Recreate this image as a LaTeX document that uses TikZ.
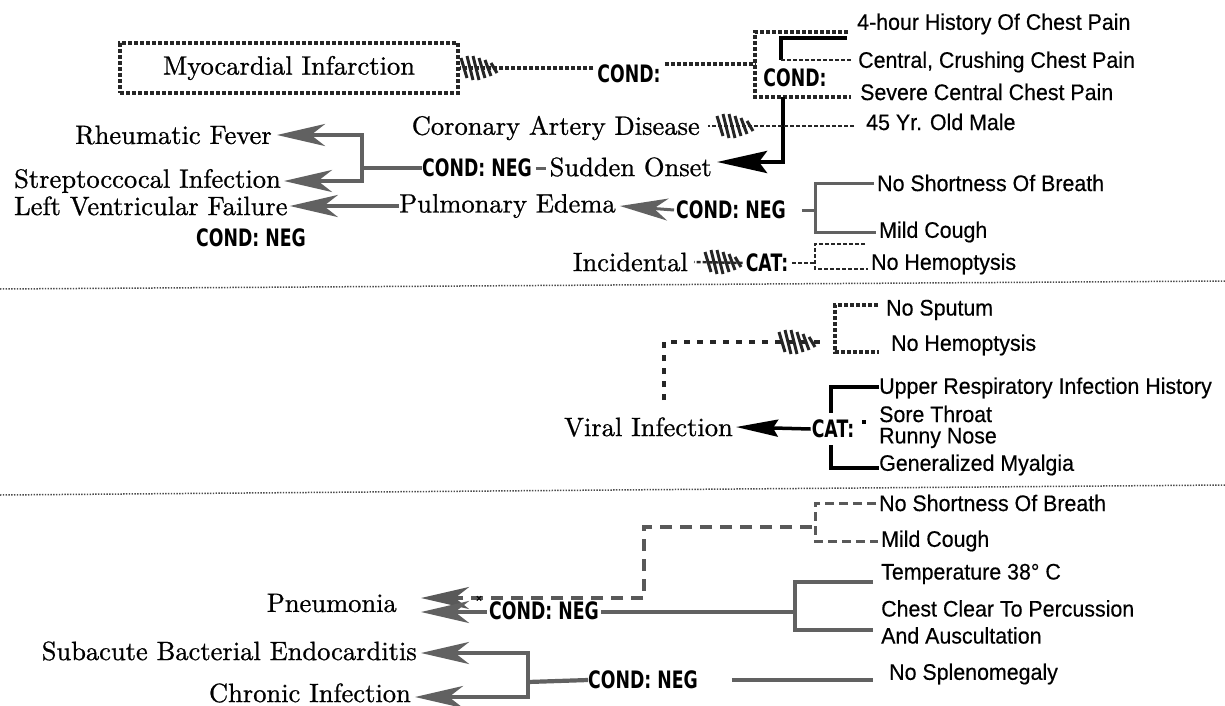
\documentclass[tikz,border=0pt]{standalone}
\usepackage{fontspec}
\newfontfamily\pal{lmroman10-regular}[Extension=.otf, FakeBold=0.8]
\newfontfamily\hv{Liberation Sans}[FakeStretch=0.95, FakeBold=0.4]
\newfontfamily\condf{DejaVu Sans}[FakeStretch=0.72]
\usetikzlibrary{arrows.meta}
\begin{document}
\begin{tikzpicture}[x=1pt,y=-1pt,
 serif/.style={font=\pal\fontsize{26.5}{30}\selectfont, inner sep=0pt},
 sans/.style={font=\hv\fontsize{22.5}{27}\selectfont, inner sep=0pt},
 cond/.style={font=\condf\bfseries\fontsize{24}{27}\selectfont, inner sep=0pt},
 hatch/.style={draw=black!85, line width=3.4pt, dash pattern=on 4pt off 2pt},
 chain/.style={draw=black!62, line width=4.2pt},
 solidk/.style={draw=black, line width=4.5pt},
 dashg/.style={draw=black!65, line width=4pt, dash pattern=on 12pt off 8pt},
 divider/.style={draw=black!70, line width=1.5pt, dash pattern=on 1.4pt off 1.4pt},
 garrow/.style={-{Stealth[length=48pt,width=22pt,inset=14pt]}},
 karrow/.style={-{Stealth[length=50pt,width=22pt,inset=8pt]}},
 hh/.pic={\foreach \i/\h in {0/10,6/12,12/12,18/10,24/8,30/5} \draw[black!85, line width=3pt] (\i-3,-\h) -- (\i+3,\h);}
]
\fill[white] (0,0) rectangle (1225,706);
\useasboundingbox (0,0) rectangle (1225,706);

% ---------------- top section ----------------
\node[sans, anchor=west] (h4) at (857,24) {4-hour History Of Chest Pain};
\node[sans, anchor=west] (cen) at (858,62) {Central, Crushing Chest Pain};
\node[sans, anchor=west] (sev) at (860,92) {Severe Central Chest Pain};
\node[sans, anchor=west] (y45) at (866,122) {45 Yr. Old Male};
\node[serif, hatch, line width=4.5pt, minimum width=338pt, minimum height=50pt] (mi) at (289,68) {Myocardial Infarction};
\node[cond] (c1) at (629,74) {COND:};
\node[cond] (c2) at (795,78) {COND:};
\node[serif, anchor=east] (cad) at (700,128) {Coronary Artery Disease};
\node[serif, anchor=east] (so) at (712,167) {Sudden Onset};
\node[cond] (cn1) at (477,168) {COND: NEG};
\node[serif, anchor=east] (rf) at (272,135) {Rheumatic Fever};
\node[serif, anchor=west] (sti) at (14,181) {Streptoccocal Infection};

\coordinate (ibtl) at (755,32);
\coordinate (ibbl) at (755,97);
\coordinate (g1) at (781,38);
\coordinate (g2) at (781,60);
\coordinate (sv1) at (783,97);
\coordinate (sv2) at (783,162);
\coordinate (b1t) at (362,135);

\draw[hatch, shorten <=9pt, shorten >=9pt] (h4.west |- ibtl) -- (ibtl) -- (ibbl) -- (sev.west |- ibbl);
\draw[solidk, shorten <=10pt] (h4.west |- g1) -- (g1) -- (g2);
\draw[hatch, line width=2.6pt, shorten >=7pt] (g2) -- (cen.west |- g2);
\draw[hatch, shorten <=4pt] ([yshift=6pt]c1.west) -- (mi.east);
\pic at (464,68) {hh};
\draw[hatch, shorten <=4pt] ([yshift=10pt]c1.east) -- ([yshift=10pt]c1.east -| ibtl);
\draw[solidk, karrow] (sv1) -- (sv2) -- ([xshift=5pt]so.east |- sv2);
\draw[hatch, line width=2.6pt, shorten <=12pt, shorten >=8pt] ([yshift=-4pt]y45.west) -- ([yshift=-4pt]y45.west -| cad.east);
\pic at (720,126) {hh};
\draw[chain, line width=3pt, shorten <=4pt, shorten >=3pt] (cn1.east) -- (so.west |- cn1.east);
\draw[chain] (cn1.west) -- (cn1.west -| b1t);
\draw[chain, garrow] (cn1.west -| b1t) |- ([xshift=5pt]rf.east);
\draw[chain, garrow] (cn1.west -| b1t) |- ([xshift=3pt]sti.east);

% middle rows of top section
\node[serif, anchor=west] (lvf) at (14,206) {Left Ventricular Failure};
\node[serif, anchor=west] (pe) at (399,206) {Pulmonary Edema};
\node[cond] (cn3) at (251,238) {COND: NEG};
\node[cond] (cn2) at (731,210) {COND: NEG};
\draw[chain, garrow] (pe.west) -- ([xshift=2pt]lvf.east);
\draw[chain, line width=3pt, garrow] ([xshift=-2pt]cn2.west) -- ([xshift=4pt]pe.east);

\node[sans, anchor=west] (ns1) at (877,183) {No Shortness Of Breath};
\node[sans, anchor=west] (mc1) at (879,232) {Mild Cough};
\coordinate (b2t) at (815,183);
\coordinate (b2b) at (815,232);
\draw[chain, line width=3pt, shorten <=3pt, shorten >=3pt] (ns1.west) -- (b2t) -- (b2b) -- (mc1.west);
\draw[chain, line width=3pt, shorten <=16pt] (cn2.east) -- (cn2.east -| b2t);

\node[serif, anchor=east] (inc) at (688,262) {Incidental};
\node[cond] (cat1) at (767,263) {CAT:};
\node[sans, anchor=west] (nh1) at (871,264) {No Hemoptysis};
\coordinate (b3e) at (865,244);
\coordinate (b3t) at (815,244);
\coordinate (b3b) at (815,269);
\draw[hatch, line width=2.4pt, shorten <=3pt] (cat1.west) -- ([xshift=6pt]inc.east);
\pic at (708,262) {hh};
\draw[hatch, line width=2.6pt, shorten >=3pt] (b3e) -- (b3t) -- (b3b) -- ([yshift=-5pt]nh1.west);
\draw[hatch, line width=2.6pt, shorten <=4pt] (cat1.east) -- (cat1.east -| b3t);

\coordinate (d1a) at (0,289);
\coordinate (d1b) at (1225,281);
\draw[divider] (d1a) -- (d1b);

% ---------------- middle section ----------------
\node[sans, anchor=west] (ns) at (886,310) {No Sputum};
\node[sans, anchor=west] (nh2) at (891,345) {No Hemoptysis};
\coordinate (b4t) at (835,305);
\coordinate (b4b) at (835,352);
\coordinate (b4m) at (835,342);
\draw[hatch, shorten <=8pt, shorten >=12pt] ([yshift=5pt]ns.west) -- (b4t) -- (b4b) -- ([yshift=-7pt]nh2.west);
\node[serif, anchor=east] (vi) at (733,427) {Viral Infection};
\coordinate (vtop) at (664,400);
\draw[hatch, dash pattern=on 6pt off 7pt, shorten >=10pt] (vtop) |- (b4m);
\pic at (782,342) {hh};

\node[sans, anchor=west] (ur) at (879,388) {Upper Respiratory Infection History};
\node[sans, anchor=west] (st) at (879,414) {Sore Throat};
\node[sans, anchor=west] (rn) at (879,438) {Runny Nose};
\node[sans, anchor=west] (gm) at (879,465) {Generalized Myalgia};
\coordinate (b5t) at (831,387);
\coordinate (b5b) at (831,468);
\draw[solidk] (ur.west |- b5t) -- (b5t) -- (b5b) -- (gm.west |- b5b);
\node[cond, fill=white, inner xsep=1pt, inner ysep=7pt] (cat2) at (833,429) {CAT:};
\fill (862,420) rectangle (866,424);
\draw[solidk, line width=3.5pt, -{Stealth[length=42pt,width=17pt,inset=5pt]}] (cat2.west) -- ([xshift=3pt]vi.east);

\coordinate (d2a) at (0,495);
\coordinate (d2b) at (1225,485);
\draw[divider] (d2a) -- (d2b);

% ---------------- bottom section ----------------
\node[sans, anchor=west] (ns2) at (879,503) {No Shortness Of Breath};
\node[sans, anchor=west] (mc2) at (881,541) {Mild Cough};
\node[sans, anchor=west] (tmp) at (881,574) {Temperature 38° C};
\node[sans, anchor=west, align=left] (ccp) at (881,622) {Chest Clear To Percussion\\And Auscultation};
\node[sans, anchor=west] (nsp) at (889,674) {No Splenomegaly};
\node[serif, anchor=east] (pn) at (397,603) {Pneumonia};

\coordinate (b6t) at (815,503);
\coordinate (b6b) at (815,541);
\draw[dashg, line width=3pt, dash pattern=on 9pt off 5pt, shorten <=3pt, shorten >=3pt] (ns2.west) -- (b6t) -- (b6b) -- (mc2.west);
\coordinate (p1) at (812,527);
\coordinate (p2) at (644,527);
\coordinate (u1) at (644,598);
\draw[dashg, garrow] (p1) -- (p2) -- (u1) -- ([xshift=24pt,yshift=5pt]pn.east);

\coordinate (b7t) at (795,582);
\coordinate (b7b) at (795,630);
\coordinate (b7m) at (795,612);
\draw[chain, shorten <=8pt, shorten >=8pt] (tmp.west |- b7t) -- (b7t) -- (b7b) -- (ccp.west |- b7b);
\draw[chain, garrow] (b7m) -- ([xshift=24pt,yshift=-9pt]pn.east);
\node[cond, fill=white, inner sep=2pt] (cn4) at (544,611) {COND: NEG};
\node[font=\hv\fontsize{11}{11}\selectfont, inner sep=0pt] (xm) at (479,599) {×};

\node[serif, anchor=east] (sbe) at (417,651) {Subacute Bacterial Endocarditis};
\node[serif, anchor=east] (ci) at (411,693) {Chronic Infection};
\node[cond] (cn5) at (643,680) {COND: NEG};
\coordinate (b8) at (528,682);
\draw[chain] (cn5.west) -- (b8);
\draw[chain, garrow] (b8) |- ([xshift=4pt,yshift=-2pt]sbe.east);
\draw[chain, garrow] (b8) |- ([xshift=4pt,yshift=-4pt]ci.east);
\draw[chain, shorten <=34pt, shorten >=16pt] (cn5.east) -- (cn5.east -| nsp.west);
\end{tikzpicture}
\end{document}
